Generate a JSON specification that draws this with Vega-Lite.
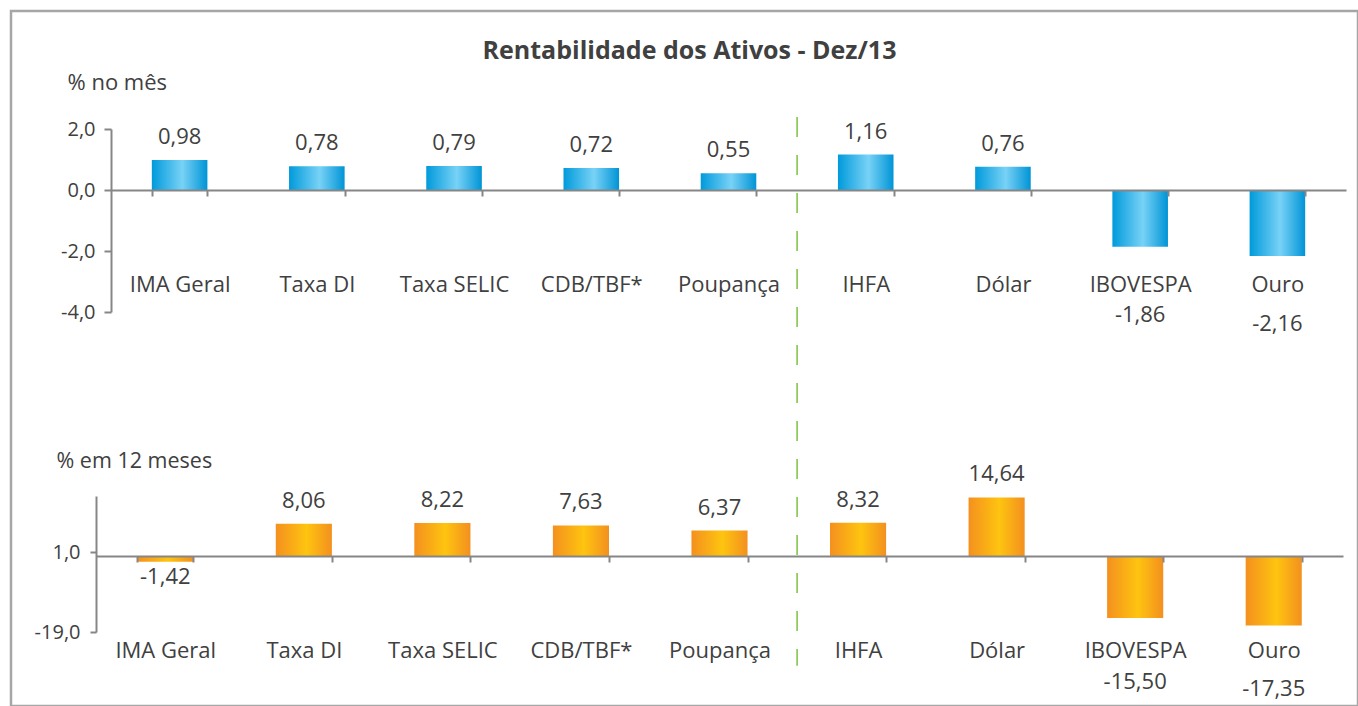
{
  "$schema": "https://vega.github.io/schema/vega-lite/v6.json",
  "width": 1347,
  "height": 695,
  "padding": {"left": 11, "top": 11, "right": 0, "bottom": 0},
  "autosize": {"type": "none"},
  "background": "#ffffff",
  "title": {
    "text": "Rentabilidade dos Ativos - Dez/13",
    "font": "Open Sans",
    "fontSize": 25,
    "fontWeight": "bold",
    "color": "#404040",
    "anchor": "middle",
    "frame": "group",
    "offset": -65,
    "baseline": "middle",
    "dx": 5
  },
  "config": {
    "font": "Open Sans",
    "view": {"stroke": "#a6a6a6", "strokeWidth": 2.5},
    "locale": {"number": {"decimal": ",", "thousands": ".", "grouping": [3], "currency": ["R$", ""], "minus": "-"}},
    "axis": {
      "domainColor": "#868686",
      "domainWidth": 2,
      "tickColor": "#868686",
      "tickWidth": 2,
      "labelColor": "#404040",
      "titleColor": "#404040",
      "grid": false,
      "labelFont": "Open Sans",
      "titleFont": "Open Sans"
    },
    "text": {"font": "Open Sans", "color": "#404040", "fontSize": 22, "baseline": "middle"}
  },
  "datasets": {
    "ativos": [
      {"ativo": "IMA Geral", "mes": 0.98, "ano": -1.42},
      {"ativo": "Taxa DI", "mes": 0.78, "ano": 8.06},
      {"ativo": "Taxa SELIC", "mes": 0.79, "ano": 8.22},
      {"ativo": "CDB/TBF*", "mes": 0.72, "ano": 7.63},
      {"ativo": "Poupança", "mes": 0.55, "ano": 6.37},
      {"ativo": "IHFA", "mes": 1.16, "ano": 8.32},
      {"ativo": "Dólar", "mes": 0.76, "ano": 14.64},
      {"ativo": "IBOVESPA", "mes": -1.86, "ano": -15.50},
      {"ativo": "Ouro", "mes": -2.16, "ano": -17.35}
    ]
  },
  "data": {"name": "ativos"},
  "resolve": {
    "scale": {"x": "independent", "y": "independent"},
    "axis": {"x": "independent", "y": "independent"}
  },
  "layer": [
    {
      "encoding": {
        "x": {
          "field": "ativo",
          "type": "nominal",
          "scale": {
            "domain": ["IMA Geral", "Taxa DI", "Taxa SELIC", "CDB/TBF*", "Poupança", "IHFA", "Dólar", "IBOVESPA", "Ouro"],
            "range": [100, 1335],
            "paddingInner": 0.595,
            "paddingOuter": 0.2975
          },
          "axis": {
            "orient": "bottom",
            "offset": -516,
            "title": null,
            "tickBand": "extent",
            "tickSize": 6,
            "labelPadding": 88,
            "labelBaseline": "middle",
            "labelAngle": 0,
            "labelFontSize": 22,
            "zindex": 1
          }
        },
        "y": {
          "field": "mes",
          "type": "quantitative",
          "scale": {"domain": [-4, 2], "range": [301, 118], "nice": false, "zero": false},
          "axis": {
            "orient": "left",
            "offset": -100,
            "values": [2, 0, -2, -4],
            "format": ".1f",
            "tickSize": 7,
            "labelPadding": 9,
            "labelFontSize": 20,
            "title": "% no mês",
            "titleAngle": 0,
            "titleAlign": "left",
            "titleBaseline": "middle",
            "titleX": -44,
            "titleY": 71,
            "titleFontSize": 22,
            "titleFontWeight": "normal",
            "zindex": 1
          }
        }
      },
      "layer": [
        {
          "mark": {
            "type": "bar",
            "color": {
              "gradient": "linear",
              "x1": 0, "x2": 1, "y1": 0, "y2": 0,
              "stops": [
                {"offset": 0, "color": "#009ADB"},
                {"offset": 0.55, "color": "#78D2F6"},
                {"offset": 1, "color": "#0094D6"}
              ]
            }
          }
        },
        {
          "transform": [{"filter": "datum.mes >= 0"}],
          "mark": {"type": "text", "dy": -23},
          "encoding": {"text": {"field": "mes", "type": "quantitative", "format": ".2f"}}
        },
        {
          "transform": [{"filter": "datum.mes < 0"}],
          "mark": {"type": "text", "dy": 68},
          "encoding": {"text": {"field": "mes", "type": "quantitative", "format": ".2f"}}
        },
        {
          "transform": [{"filter": "datum.ativo == 'IHFA'"}],
          "mark": {"type": "rule", "color": "#7DC242", "strokeWidth": 1.5, "strokeDash": [20, 18]},
          "encoding": {
            "x": {
              "field": "ativo",
              "type": "nominal",
              "bandPosition": -0.7346,
              "scale": {
                "domain": ["IMA Geral", "Taxa DI", "Taxa SELIC", "CDB/TBF*", "Poupança", "IHFA", "Dólar", "IBOVESPA", "Ouro"],
                "range": [100, 1335],
                "paddingInner": 0.595,
                "paddingOuter": 0.2975
              },
              "axis": {
                "orient": "bottom",
                "offset": -516,
                "title": null,
                "tickBand": "extent",
                "tickSize": 6,
                "labelPadding": 88,
                "labelBaseline": "middle",
                "labelAngle": 0,
                "labelFontSize": 22,
                "zindex": 1
              }
            },
            "y": {
              "datum": 2.39,
              "type": "quantitative",
              "scale": {"domain": [-4, 2], "range": [301, 118], "nice": false, "zero": false},
              "axis": {
                "orient": "left",
                "offset": -100,
                "values": [2, 0, -2, -4],
                "format": ".1f",
                "tickSize": 7,
                "labelPadding": 9,
                "labelFontSize": 20,
                "title": "% no mês",
                "titleAngle": 0,
                "titleAlign": "left",
                "titleBaseline": "middle",
                "titleX": -44,
                "titleY": 71,
                "titleFontSize": 22,
                "titleFontWeight": "normal",
                "zindex": 1
              }
            },
            "y2": {"datum": -15.6}
          }
        }
      ]
    },
    {
      "encoding": {
        "x": {
          "field": "ativo",
          "type": "nominal",
          "scale": {
            "domain": ["IMA Geral", "Taxa DI", "Taxa SELIC", "CDB/TBF*", "Poupança", "IHFA", "Dólar", "IBOVESPA", "Ouro"],
            "range": [85, 1332],
            "paddingInner": 0.595,
            "paddingOuter": 0.2975
          },
          "axis": {
            "orient": "bottom",
            "offset": -150,
            "title": null,
            "tickBand": "extent",
            "tickSize": 6,
            "labelPadding": 88,
            "labelBaseline": "middle",
            "labelAngle": 0,
            "labelFontSize": 22,
            "zindex": 1
          }
        },
        "y": {
          "field": "ano",
          "type": "quantitative",
          "scale": {"domain": [-19, 15], "range": [621, 485], "nice": false, "zero": false},
          "axis": {
            "orient": "left",
            "offset": -85,
            "values": [1, -19],
            "format": ".1f",
            "tickSize": 6,
            "labelPadding": 10,
            "labelFontSize": 20,
            "title": "% em 12 meses",
            "titleAngle": 0,
            "titleAlign": "left",
            "titleBaseline": "middle",
            "titleX": -40,
            "titleY": 450,
            "titleFontSize": 21.5,
            "titleFontWeight": "normal",
            "zindex": 1
          }
        }
      },
      "layer": [
        {
          "mark": {
            "type": "bar",
            "color": {
              "gradient": "linear",
              "x1": 0, "x2": 1, "y1": 0, "y2": 0,
              "stops": [
                {"offset": 0, "color": "#F4901F"},
                {"offset": 0.55, "color": "#FEC40F"},
                {"offset": 1, "color": "#F3901F"}
              ]
            }
          }
        },
        {
          "transform": [{"filter": "datum.ano >= 0"}],
          "mark": {"type": "text", "dy": -23},
          "encoding": {"text": {"field": "ano", "type": "quantitative", "format": ".2f"}}
        },
        {
          "transform": [{"filter": "datum.ano < 0 && datum.ano > -5"}],
          "mark": {"type": "text", "dy": 15},
          "encoding": {"text": {"field": "ano", "type": "quantitative", "format": ".2f"}}
        },
        {
          "transform": [{"filter": "datum.ano <= -5"}],
          "mark": {"type": "text", "dy": 64},
          "encoding": {"text": {"field": "ano", "type": "quantitative", "format": ".2f"}}
        }
      ]
    }
  ]
}
